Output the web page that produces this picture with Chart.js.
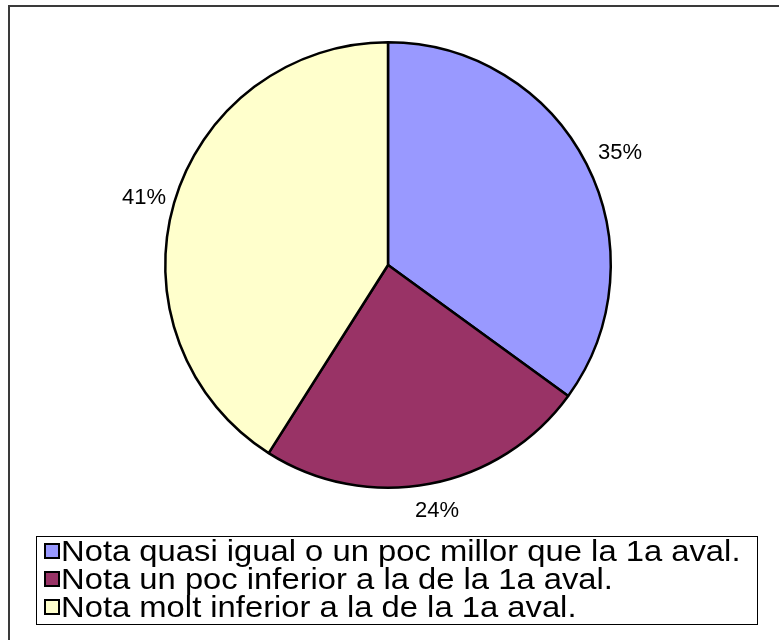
<!DOCTYPE html>
<html>
<head>
<meta charset="utf-8">
<script src="https://cdn.jsdelivr.net/npm/chart.js@4/dist/chart.umd.min.js"></script>
<style>
  body { margin: 0; background: #fff; font-family: "Liberation Sans", Arial, sans-serif; }
  #wrap { position: relative; width: 779px; height: 640px; overflow: hidden; }
  #frame { position: absolute; left: 8px; top: 5px; width: 800px; height: 700px; border: 2px solid #3a3a3a; box-sizing: border-box; }
  #chart { position: absolute; left: 0; top: 0; }
  #legend { position: absolute; left: 36px; top: 536px; width: 722px; height: 89px; border: 1px solid #000; box-sizing: border-box; padding: 0 0 0 7px; }
  .item { display: flex; align-items: center; height: 28px; }
  .item span.t { display: inline-block; font-size: 29px; line-height: 28px; color: #000; white-space: nowrap; transform: scaleX(1.13); transform-origin: left center; }
  .sw { width: 12px; height: 12px; border: 2px solid #000; margin-right: 1px; flex: none; }
</style>
</head>
<body>
<div id="wrap">
  <div id="frame"></div>
  <canvas id="chart" width="779" height="640"></canvas>
  <div id="legend"></div>
</div>
<script>
const categories = [
  "Nota quasi igual o un poc millor que la 1a aval.",
  "Nota un poc inferior a la de la 1a aval.",
  "Nota molt inferior a la de la 1a aval."
];
const percents = [35, 24, 41];
const colors = ["#9999ff", "#993366", "#ffffcc"];

// percentage labels outside the pie, pushed out by the label box size
const outsideLabels = {
  id: "outsideLabels",
  afterDatasetsDraw(chart) {
    const ctx = chart.ctx;
    const meta = chart.getDatasetMeta(0);
    ctx.save();
    ctx.font = "22px 'Liberation Sans', Arial, sans-serif";
    ctx.fillStyle = "#000";
    ctx.textAlign = "center";
    ctx.textBaseline = "middle";
    meta.data.forEach((arc, i) => {
      const txt = percents[i] + "%";
      const hw = ctx.measureText(txt).width / 2, hh = 8;
      const mid = (arc.startAngle + arc.endAngle) / 2;
      const c = Math.cos(mid), s = Math.sin(mid);
      const r = arc.outerRadius + 11 + Math.abs(c) * hw + Math.abs(s) * hh;
      ctx.fillText(txt, arc.x + c * r + 3, arc.y + s * r + 5);
    });
    ctx.restore();
  }
};

new Chart(document.getElementById("chart"), {
  type: "pie",
  data: {
    labels: categories,
    datasets: [{
      data: percents,
      backgroundColor: colors,
      borderColor: "#000",
      borderWidth: 2.5,
      borderAlign: "center"
    }]
  },
  options: {
    responsive: false,
    animation: false,
    layout: { padding: { left: 164, right: 167, top: 40, bottom: 150 } },
    plugins: { legend: { display: false }, tooltip: { enabled: false } }
  },
  plugins: [outsideLabels]
});

const legend = document.getElementById("legend");
categories.forEach((name, i) => {
  const row = document.createElement("div");
  row.className = "item";
  const sw = document.createElement("div");
  sw.className = "sw";
  sw.style.background = colors[i];
  const txt = document.createElement("span");
  txt.className = "t";
  txt.textContent = name;
  row.appendChild(sw);
  row.appendChild(txt);
  legend.appendChild(row);
});
</script>
</body>
</html>
